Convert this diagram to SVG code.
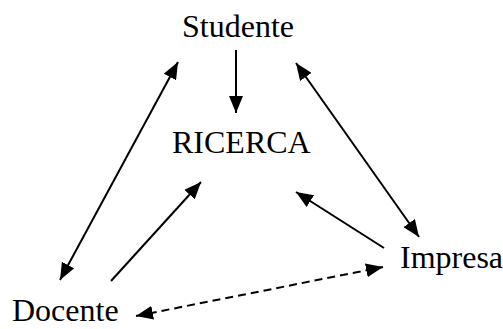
<svg xmlns="http://www.w3.org/2000/svg" width="503" height="329" viewBox="0 0 503 329">
  <style>
    .label { font-family: "Liberation Serif", "Times New Roman", serif; font-size: 32px; fill: #000; }
    .link { stroke: #000; stroke-width: 2; fill: none; }
    .dashed { stroke-dasharray: 8 5; }
  </style>
  <defs>
    <!-- filled triangular arrowhead, tip at the line end -->
    <marker id="head" viewBox="0 0 17 14" refX="17" refY="7" markerWidth="17" markerHeight="14" markerUnits="userSpaceOnUse" orient="auto-start-reverse">
      <path d="M0,0 L17,7 L0,14 z" fill="#000"/>
    </marker>
  </defs>
  <rect width="503" height="329" fill="#fff"/>

  <g id="studente"><text class="label" x="182" y="37">Studente</text></g>
  <g id="ricerca"><text class="label" x="172" y="153">RICERCA</text></g>
  <g id="impresa"><text class="label" x="400" y="268">Impresa</text></g>
  <g id="docente"><text class="label" x="12" y="321">Docente</text></g>

  <g id="connectors">
    <!-- Studente to RICERCA -->
    <line class="link" x1="236" y1="50" x2="236" y2="113" marker-end="url(#head)"/>
    <!-- Studente and Docente -->
    <line class="link" x1="60" y1="280" x2="178" y2="62" marker-start="url(#head)" marker-end="url(#head)"/>
    <!-- Studente and Impresa -->
    <line class="link" x1="296" y1="63" x2="419" y2="237" marker-start="url(#head)" marker-end="url(#head)"/>
    <!-- Impresa to RICERCA -->
    <line class="link" x1="384" y1="248" x2="296" y2="192" marker-end="url(#head)"/>
    <!-- Docente to RICERCA -->
    <line class="link" x1="111" y1="281" x2="201" y2="182" marker-end="url(#head)"/>
    <!-- Docente and Impresa -->
    <line class="link dashed" x1="136" y1="316" x2="383" y2="267" marker-start="url(#head)" marker-end="url(#head)"/>
  </g>
</svg>
